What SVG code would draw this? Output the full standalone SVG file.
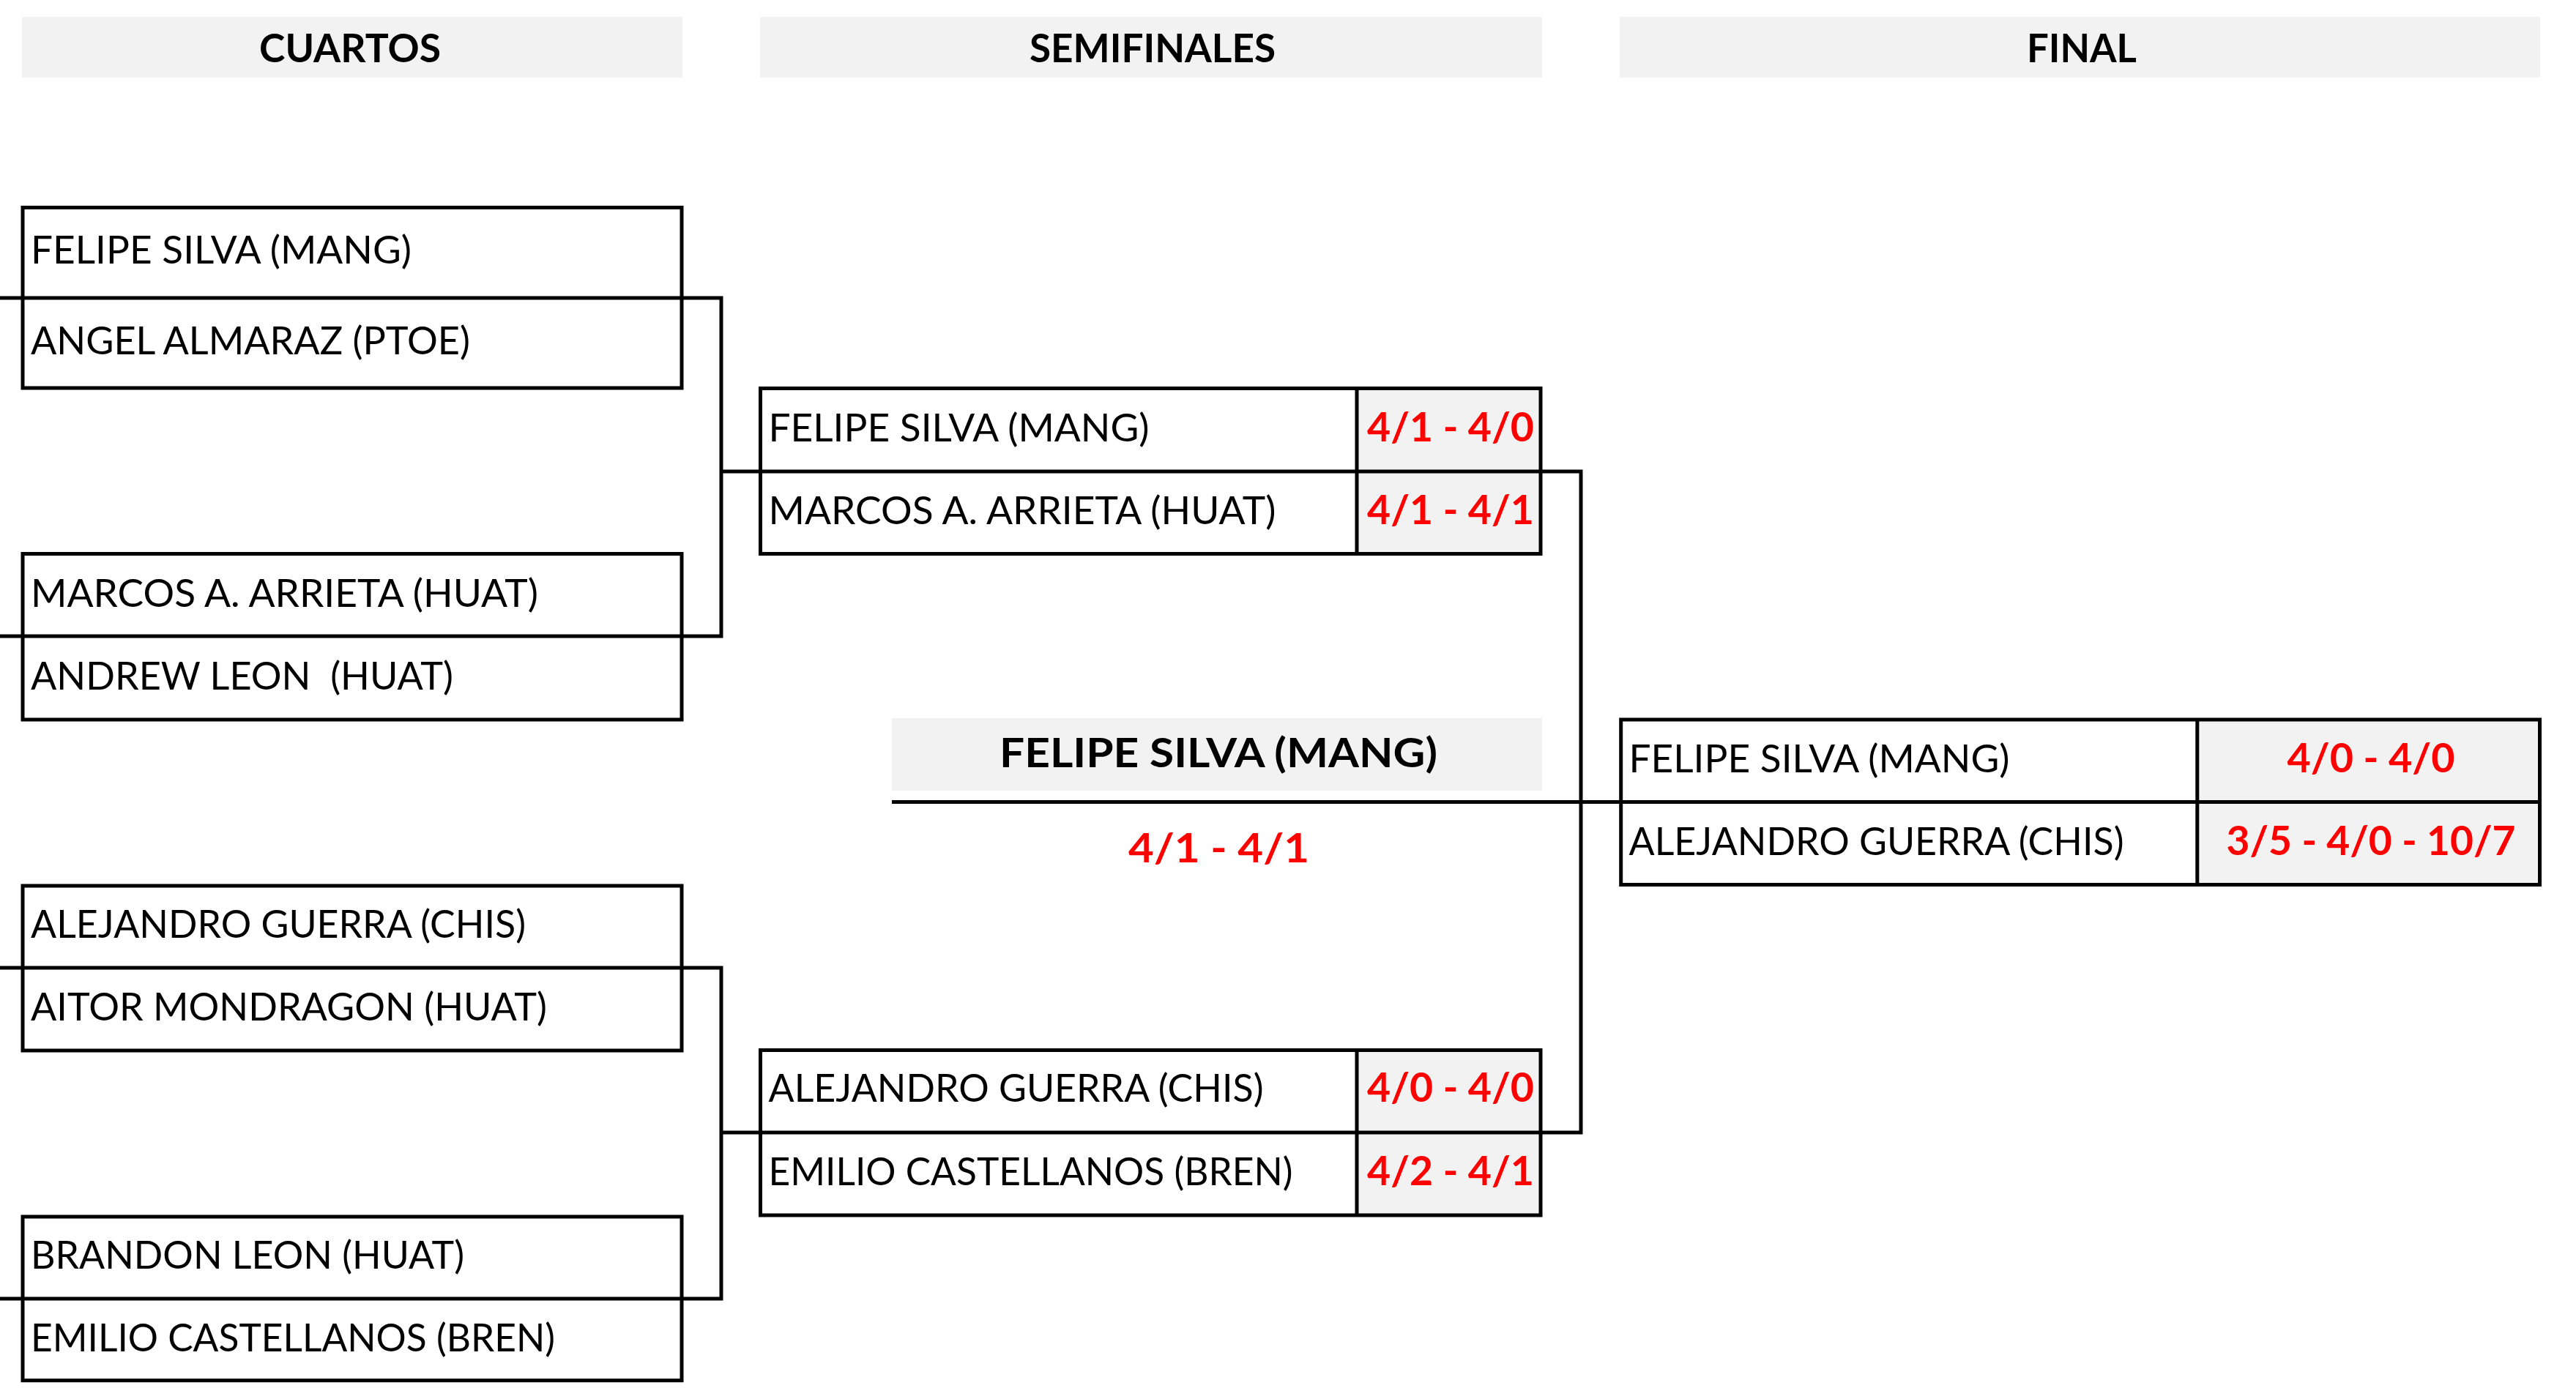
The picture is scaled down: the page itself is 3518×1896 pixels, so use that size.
<svg xmlns="http://www.w3.org/2000/svg" width="3518" height="1896" viewBox="0 0 3518 1896">
<style>
.bg{fill:#FFFFFF}
.gray{fill:#F2F2F2}
.frame{fill:none;stroke:#000000;stroke-width:5}
.white{fill:#FFFFFF}
.conn{fill:none;stroke:#000000;stroke-width:5}
text{font-family:Lato,"Liberation Sans",sans-serif}
.name{font-size:53px;fill:#000000}
.hdr{font-size:54px;font-weight:700;fill:#000000;text-anchor:middle}
.champ{font-size:56px;font-weight:700;fill:#000000;text-anchor:middle}
.score{font-size:56px;font-weight:700;fill:#FF0000;text-anchor:middle}
</style>
<rect class="bg" x="0" y="0" width="3518" height="1896"/>

<g id="headers">
  <rect class="gray" x="30" y="23" width="902" height="83"/>
  <text class="hdr" x="478" y="85" textLength="248" lengthAdjust="spacingAndGlyphs">CUARTOS</text>
  <rect class="gray" x="1038" y="23" width="1068" height="83"/>
  <text class="hdr" x="1574" y="85" textLength="336" lengthAdjust="spacingAndGlyphs">SEMIFINALES</text>
  <rect class="gray" x="2212" y="23" width="1257" height="83"/>
  <text class="hdr" x="2843" y="85" textLength="150" lengthAdjust="spacingAndGlyphs">FINAL</text>
</g>

<g id="connectors">
  <path class="conn" d="M0 407H985V869H0M985 644H1038.5"/>
  <path class="conn" d="M0 1322H985V1774H0M985 1547H1038.5"/>
  <path class="conn" d="M2104 644H2159V1547H2104"/>
  <path class="conn" d="M1218 1095.5H2213.7"/>
</g>

<g id="qf1">
  <rect class="white" x="31" y="283.5" width="900" height="246.5"/>
  <rect class="frame" x="31" y="283.5" width="900" height="246.5"/>
  <path class="frame" d="M31 407H931"/>
  <text class="name" x="42" y="360" textLength="520" lengthAdjust="spacingAndGlyphs">FELIPE SILVA (MANG)</text>
  <text class="name" x="42" y="484" textLength="600" lengthAdjust="spacingAndGlyphs">ANGEL ALMARAZ (PTOE)</text>
</g>

<g id="qf2">
  <rect class="white" x="31" y="756.5" width="900" height="226.5"/>
  <rect class="frame" x="31" y="756.5" width="900" height="226.5"/>
  <path class="frame" d="M31 869H931"/>
  <text class="name" x="42" y="829" textLength="693" lengthAdjust="spacingAndGlyphs">MARCOS A. ARRIETA (HUAT)</text>
  <text class="name" x="42" y="942" textLength="577" lengthAdjust="spacingAndGlyphs" xml:space="preserve">ANDREW LEON  (HUAT)</text>
</g>

<g id="qf3">
  <rect class="white" x="31" y="1210" width="900" height="225"/>
  <rect class="frame" x="31" y="1210" width="900" height="225"/>
  <path class="frame" d="M31 1322H931"/>
  <text class="name" x="42" y="1281" textLength="676" lengthAdjust="spacingAndGlyphs">ALEJANDRO GUERRA (CHIS)</text>
  <text class="name" x="42" y="1394" textLength="705" lengthAdjust="spacingAndGlyphs">AITOR MONDRAGON (HUAT)</text>
</g>

<g id="qf4">
  <rect class="white" x="31" y="1662" width="900" height="223.7"/>
  <rect class="frame" x="31" y="1662" width="900" height="223.7"/>
  <path class="frame" d="M31 1774H931"/>
  <text class="name" x="42" y="1733" textLength="592" lengthAdjust="spacingAndGlyphs">BRANDON LEON (HUAT)</text>
  <text class="name" x="42" y="1846" textLength="716" lengthAdjust="spacingAndGlyphs">EMILIO CASTELLANOS (BREN)</text>
</g>

<g id="sf1">
  <rect class="white" x="1038.5" y="530.5" width="1065.5" height="226"/>
  <rect class="gray" x="1853" y="530.5" width="251" height="226"/>
  <rect class="frame" x="1038.5" y="530.5" width="1065.5" height="226"/>
  <path class="frame" d="M1038.5 644H2104M1853 530.5V756.5"/>
  <text class="name" x="1049.5" y="602.5" textLength="520" lengthAdjust="spacingAndGlyphs">FELIPE SILVA (MANG)</text>
  <text class="name" x="1049.5" y="716" textLength="693" lengthAdjust="spacingAndGlyphs">MARCOS A. ARRIETA (HUAT)</text>
  <text class="score" x="1981" y="602.5" textLength="228" lengthAdjust="spacingAndGlyphs">4/1 - 4/0</text>
  <text class="score" x="1981" y="716" textLength="228" lengthAdjust="spacingAndGlyphs">4/1 - 4/1</text>
</g>

<g id="sf2">
  <rect class="white" x="1038.5" y="1434.5" width="1065.5" height="225.5"/>
  <rect class="gray" x="1853" y="1434.5" width="251" height="225.5"/>
  <rect class="frame" x="1038.5" y="1434.5" width="1065.5" height="225.5"/>
  <path class="frame" d="M1038.5 1547H2104M1853 1434.5V1660"/>
  <text class="name" x="1049.5" y="1505" textLength="676" lengthAdjust="spacingAndGlyphs">ALEJANDRO GUERRA (CHIS)</text>
  <text class="name" x="1049.5" y="1619" textLength="716" lengthAdjust="spacingAndGlyphs">EMILIO CASTELLANOS (BREN)</text>
  <text class="score" x="1981" y="1505" textLength="228" lengthAdjust="spacingAndGlyphs">4/0 - 4/0</text>
  <text class="score" x="1981" y="1619" textLength="228" lengthAdjust="spacingAndGlyphs">4/2 - 4/1</text>
</g>

<g id="final">
  <rect class="white" x="2213.7" y="983" width="1254.8" height="225.5"/>
  <rect class="gray" x="3000.8" y="983" width="467.7" height="225.5"/>
  <rect class="frame" x="2213.7" y="983" width="1254.8" height="225.5"/>
  <path class="frame" d="M2213.7 1095.5H3468.5M3000.8 983V1208.5"/>
  <text class="name" x="2224.5" y="1055" textLength="520" lengthAdjust="spacingAndGlyphs">FELIPE SILVA (MANG)</text>
  <text class="name" x="2224.5" y="1168" textLength="676" lengthAdjust="spacingAndGlyphs">ALEJANDRO GUERRA (CHIS)</text>
  <text class="score" x="3238" y="1055" textLength="229" lengthAdjust="spacingAndGlyphs">4/0 - 4/0</text>
  <text class="score" x="3238" y="1168" textLength="395" lengthAdjust="spacingAndGlyphs">3/5 - 4/0 - 10/7</text>
</g>

<g id="champion">
  <rect class="gray" x="1218" y="981" width="888" height="99"/>
  <text class="champ" x="1664" y="1048" textLength="598" lengthAdjust="spacingAndGlyphs">FELIPE SILVA (MANG)</text>
  <text class="score" x="1664.5" y="1177.5" textLength="247" lengthAdjust="spacingAndGlyphs">4/1 - 4/1</text>
</g>
</svg>
